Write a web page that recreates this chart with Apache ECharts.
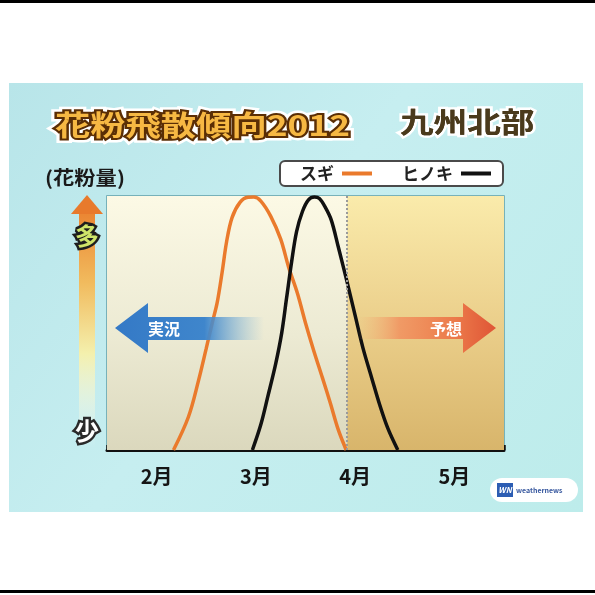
<!DOCTYPE html>
<html>
<head>
<meta charset="utf-8">
<style>
  html, body { margin: 0; padding: 0; background: #fff; }
  #chart { width: 595px; height: 595px; }
</style>
<script src="https://cdn.jsdelivr.net/npm/echarts@6/dist/echarts.min.js"></script>
</head>
<body>
<div id="chart"></div>
<script>
// Month bands along the bottom axis (each band = one month, Feb..May)
const monthLabels = ['2月', '3月', '4月', '5月'];

// x = months since the start of February, y = relative pollen amount (0..100)
const sugiX = [0.67, 0.82, 0.92, 1.00, 1.06, 1.11, 1.16, 1.205, 1.26, 1.34, 1.42, 1.48, 1.55, 1.65, 1.75, 1.83, 1.92, 2.00, 2.08, 2.17, 2.25, 2.33, 2.41];
const sugiY = [0, 13, 27, 40, 50, 58, 70, 82, 91.5, 97.5, 99.5, 99.6, 98, 92, 83, 72, 61.5, 50, 39.5, 28.5, 18.5, 8, 0];

const hinokiX = [1.465, 1.55, 1.62, 1.70, 1.76, 1.81, 1.86, 1.91, 1.97, 2.03, 2.09, 2.14, 2.20, 2.26, 2.33, 2.42, 2.50, 2.58, 2.67, 2.75, 2.83, 2.93];
const hinokiY = [0, 10, 21, 34, 46, 60, 74, 86, 94, 98.5, 99.6, 99, 95.5, 90.5, 80, 66, 53, 40, 28, 17.5, 8.5, 0];

// Boundary between observed (実況) and forecast (予想) periods
const forecastStart = 2.42;

const FONT = '"Noto Sans CJK JP", "Noto Sans", sans-serif';

function pairs(xs, ys) {
  return xs.map((x, i) => [x, ys[i]]);
}

function vGrad(stops) {
  return { type: 'linear', x: 0, y: 0, x2: 0, y2: 1,
    colorStops: stops.map(s => ({ offset: s[0], color: s[1] })) };
}
function hGrad(stops) {
  return { type: 'linear', x: 0, y: 0, x2: 1, y2: 0,
    colorStops: stops.map(s => ({ offset: s[0], color: s[1] })) };
}

const chart = echarts.init(document.getElementById('chart'), null, { renderer: 'canvas' });

const option = {
  animation: false,
  backgroundColor: '#ffffff',
  textStyle: { fontFamily: FONT },
  grid: {
    left: 107, right: 91, top: 196, bottom: 145,
    show: true,
    backgroundColor: 'transparent',
    borderColor: '#5f9ea8',
    borderWidth: 1.5
  },
  legend: {
    data: ['スギ', 'ヒノキ'],
    left: 280, top: 161,
    align: 'right',
    icon: 'rect',
    itemWidth: 30, itemHeight: 4,
    itemGap: 30,
    padding: [4, 12, 4, 20],
    backgroundColor: '#ffffff',
    borderColor: '#4a4a4a', borderWidth: 2, borderRadius: 5,
    textStyle: { fontFamily: FONT, fontSize: 17, fontWeight: 'bold', color: '#222', padding: [0, 3, 0, 0] },
    selectedMode: false
  },
  xAxis: [
    {
      type: 'value', min: 0, max: 4, interval: 1,
      axisLine: { show: true, lineStyle: { color: '#111', width: 3 } },
      axisTick: { show: true, inside: true, length: 5, lineStyle: { color: '#111', width: 2.5 } },
      axisLabel: { show: false },
      splitLine: { show: false }
    },
    {
      type: 'category', data: monthLabels, boundaryGap: true,
      position: 'bottom', offset: 0,
      axisLine: { show: false }, axisTick: { show: false },
      axisLabel: { fontFamily: FONT, fontSize: 20, fontWeight: 'bold', color: '#151515', margin: 16 },
      splitLine: { show: false }
    }
  ],
  yAxis: {
    type: 'value', min: 0, max: 100,
    axisLine: { show: false }, axisTick: { show: false },
    axisLabel: { show: false }, splitLine: { show: false }
  },
  series: [
    {
      // shaded observed / forecast periods and the dotted divider
      name: 'period', type: 'line', data: [], z: 1, silent: true,
      markArea: {
        silent: true,
        data: [
          [{ xAxis: 0, itemStyle: { color: vGrad([[0, '#fcf9e5'], [0.55, '#ecead3'], [1, '#dbd8bd']]) } }, { xAxis: forecastStart }],
          [{ xAxis: forecastStart, itemStyle: { color: vGrad([[0, '#faebab'], [0.5, '#ebcf8b'], [1, '#d8b56b']]) } }, { xAxis: 4 }]
        ]
      },
      markLine: {
        silent: true, symbol: 'none',
        label: { show: false },
        lineStyle: { color: '#9a9a9a', type: 'dotted', width: 2 },
        data: [{ xAxis: forecastStart }]
      }
    },
    {
      name: 'スギ', type: 'line', z: 3,
      data: pairs(sugiX, sugiY),
      smooth: 0.35, showSymbol: false,
      lineStyle: { color: '#ea7a2c', width: 3.5 },
      itemStyle: { color: '#ea7a2c' }
    },
    {
      name: 'ヒノキ', type: 'line', z: 3,
      data: pairs(hinokiX, hinokiY),
      smooth: 0.35, showSymbol: false,
      lineStyle: { color: '#111111', width: 3.5 },
      itemStyle: { color: '#111111' }
    }
  ],
  graphic: [
    // page frame lines and panel background
    { type: 'rect', z: -20, shape: { x: 0, y: 0, width: 595, height: 3 }, style: { fill: '#000' } },
    { type: 'rect', z: -20, shape: { x: 0, y: 590, width: 595, height: 3 }, style: { fill: '#000' } },
    { type: 'rect', z: -20, shape: { x: 9, y: 83, width: 574, height: 429 },
      style: { fill: { type: 'linear', x: 0, y: 0, x2: 1, y2: 1,
        colorStops: [{ offset: 0, color: '#b8e5e9' }, { offset: 0.45, color: '#c6eef0' }, { offset: 1, color: '#bdeceb' }] } } },

    // title
    { type: 'text', z: 10, x: 55, y: 125, scaleX: 1.26, originX: 0, originY: 0,
      style: { text: '花粉飛散傾向2012', font: 'bold 28px ' + FONT, textVerticalAlign: 'middle',
        fill: '#fff', stroke: '#ffffff', lineWidth: 9 } },
    { type: 'text', z: 11, x: 55, y: 125, scaleX: 1.26, originX: 0, originY: 0,
      style: { text: '花粉飛散傾向2012', font: 'bold 28px ' + FONT, textVerticalAlign: 'middle',
        fill: '#f6b843', stroke: '#5a2e05', lineWidth: 4, strokeFirst: true } },
    { type: 'text', z: 10, x: 400, y: 122, scaleX: 1.2, originX: 0, originY: 0,
      style: { text: '九州北部', font: 'bold 28px ' + FONT, textVerticalAlign: 'middle',
        fill: '#4a3a1c', stroke: '#ffffff', lineWidth: 5 } },
    { type: 'text', z: 11, x: 400, y: 122, scaleX: 1.2, originX: 0, originY: 0,
      style: { text: '九州北部', font: 'bold 28px ' + FONT, textVerticalAlign: 'middle', fill: '#4a3a1c' } },

    // amount axis caption and arrow
    { type: 'text', z: 10, x: 45, y: 178, scaleX: 1.12, originX: 0, originY: 0,
      style: { text: '(花粉量)', font: 'bold 19px ' + FONT, textVerticalAlign: 'middle', fill: '#1a1a1a' } },
    { type: 'rect', z: 5, shape: { x: 79, y: 212, width: 16, height: 236 },
      style: { fill: vGrad([[0, '#eb8532'], [0.3, '#f1bb5e'], [0.6, '#f4f0ad'], [1, 'rgba(255,255,255,0)']]) } },
    { type: 'polygon', z: 5, shape: { points: [[87, 195], [103, 214], [71, 214]] }, style: { fill: '#e87a2c' } },
    { type: 'text', z: 12, x: 87, y: 236,
      style: { text: '多', font: 'bold 24px ' + FONT, textAlign: 'center', textVerticalAlign: 'middle',
        fill: '#cfe56a', stroke: '#1e1e1e', lineWidth: 5, strokeFirst: true } },
    { type: 'text', z: 12, x: 87, y: 431,
      style: { text: '少', font: 'bold 24px ' + FONT, textAlign: 'center', textVerticalAlign: 'middle',
        fill: '#ffffff', stroke: '#2a2a2a', lineWidth: 5, strokeFirst: true } },

    // observed / forecast arrows
    { type: 'polygon', z: 20,
      shape: { points: [[115, 328], [148, 303], [148, 317], [264, 317], [264, 340], [148, 340], [148, 353]] },
      style: { fill: hGrad([[0, '#3479c6'], [0.6, '#3f86cc'], [1, 'rgba(120,180,220,0)']]) } },
    { type: 'text', z: 21, x: 164, y: 329,
      style: { text: '実況', font: 'bold 16px ' + FONT, textAlign: 'center', textVerticalAlign: 'middle', fill: '#ffffff' } },
    { type: 'polygon', z: 20,
      shape: { points: [[358, 317], [463, 317], [463, 303], [496, 328], [463, 353], [463, 339], [358, 339]] },
      style: { fill: hGrad([[0, 'rgba(245,175,120,0)'], [0.3, 'rgba(241,145,95,0.85)'], [0.7, '#ec7a4a'], [1, '#df5536']]) } },
    { type: 'text', z: 21, x: 446, y: 329,
      style: { text: '予想', font: 'bold 16px ' + FONT, textAlign: 'center', textVerticalAlign: 'middle', fill: '#ffffff' } },

    // brand badge
    { type: 'rect', z: 5, shape: { x: 490, y: 478, width: 88, height: 24, r: 12 }, style: { fill: '#ffffff' } },
    { type: 'rect', z: 6, shape: { x: 497, y: 483, width: 16, height: 14 }, style: { fill: '#2c5db3' } },
    { type: 'text', z: 7, x: 505, y: 490,
      style: { text: 'WN', font: 'italic bold 8px ' + FONT, textAlign: 'center', textVerticalAlign: 'middle', fill: '#ffffff' } },
    { type: 'text', z: 7, x: 516, y: 490,
      style: { text: 'weathernews', font: 'bold 7px ' + FONT, textVerticalAlign: 'middle', fill: '#3a5aa0' } }
  ]
};

chart.setOption(option);
</script>
</body>
</html>
